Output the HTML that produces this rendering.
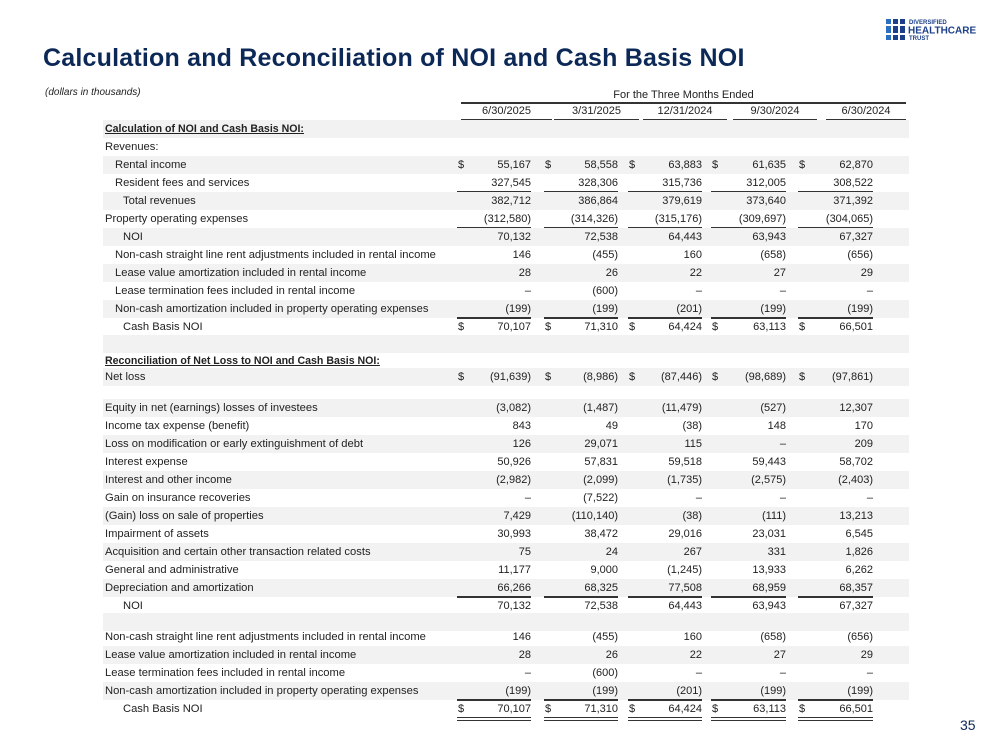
<!DOCTYPE html>
<html><head><meta charset="utf-8"><style>
*{margin:0;padding:0;box-sizing:border-box}
body{width:999px;height:750px;background:#fff;position:relative;overflow:hidden;font-family:"Liberation Sans",sans-serif;color:#222}
.t{position:absolute;left:43px;top:44px;font-size:25px;font-weight:bold;color:#0c2857;letter-spacing:0.2px}
.r{position:absolute;left:103px;width:806px;height:18px;font-size:11.2px;line-height:18px}
.s{background:#f2f2f2}
.l{position:absolute;white-space:nowrap}
.c{position:absolute;top:0;height:18px;text-align:right;font-size:11px}
.d{position:absolute;top:0;font-size:11px}
.u{position:absolute;height:1.5px;background:#333}
.dd{position:absolute;height:4px;border-top:1.5px solid #333;border-bottom:1.5px solid #333}
.h{position:absolute;font-size:11px;text-align:center}
.b{font-weight:bold;text-decoration:underline;font-size:10.6px}
</style></head><body>
<div class="t">Calculation and Reconciliation of NOI and Cash Basis NOI</div>
<svg style="position:absolute;left:886px;top:17px" width="95" height="28">
<g fill="#2a6fc0"><rect x="0" y="2" width="5" height="5"/><rect x="0" y="9" width="5" height="7"/><rect x="0" y="18" width="5" height="5"/></g>
<g fill="#1c3f8a"><rect x="7" y="2" width="5" height="5"/><rect x="7" y="9" width="5" height="7"/><rect x="7" y="18" width="5" height="5"/><rect x="14" y="2" width="5" height="5"/><rect x="14" y="9" width="5" height="7"/><rect x="14" y="18" width="5" height="5"/></g>
<text x="23" y="7" font-size="6" font-family="Liberation Sans" fill="#1c3f8a" font-weight="bold">DIVERSIFIED</text>
<text x="22" y="16.5" font-size="10" font-family="Liberation Sans" fill="#1c3f8a" font-weight="bold">HEALTHCARE</text>
<text x="23" y="23" font-size="6" font-family="Liberation Sans" fill="#1c3f8a" font-weight="bold">TRUST</text>
</svg>
<div style="position:absolute;left:45px;top:87px;font-size:10px;font-style:italic">(dollars in thousands)</div>
<div class="h" style="left:461px;width:445px;top:89px">For the Three Months Ended</div>
<div class="u" style="left:461px;width:445px;top:102px"></div>
<div class="h" style="left:461px;width:91px;top:105px">6/30/2025</div>
<div class="h" style="left:554px;width:85px;top:105px">3/31/2025</div>
<div class="h" style="left:643px;width:84px;top:105px">12/31/2024</div>
<div class="h" style="left:733px;width:84px;top:105px">9/30/2024</div>
<div class="h" style="left:826px;width:80px;top:105px">6/30/2024</div>
<div class="u" style="left:461px;width:91px;top:119px"></div>
<div class="u" style="left:554px;width:85px;top:119px"></div>
<div class="u" style="left:643px;width:84px;top:119px"></div>
<div class="u" style="left:733px;width:84px;top:119px"></div>
<div class="u" style="left:826px;width:80px;top:119px"></div>
<div id="tb"></div>
<div style="position:absolute;left:960px;top:717px;font-size:14px;color:#0c2857">35</div>
<script>
var C=[[457,531],[544,618],[628,702],[711,786],[798,873]];
var rows=[
[129,1,0,"Calculation of NOI and Cash Basis NOI:",null,"b"],
[147,0,0,"Revenues:",null],
[165,1,10,"Rental income",["55,167","58,558","63,883","61,635","62,870"],"$"],
[183,0,10,"Resident fees and services",["327,545","328,306","315,736","312,005","308,522"],"u"],
[201,1,18,"Total revenues",["382,712","386,864","379,619","373,640","371,392"]],
[219,0,0,"Property operating expenses",["(312,580)","(314,326)","(315,176)","(309,697)","(304,065)"],"u"],
[237,1,18,"NOI",["70,132","72,538","64,443","63,943","67,327"]],
[255,0,10,"Non-cash straight line rent adjustments included in rental income",["146","(455)","160","(658)","(656)"]],
[273,1,10,"Lease value amortization included in rental income",["28","26","22","27","29"]],
[291,0,10,"Lease termination fees included in rental income",["–","(600)","–","–","–"]],
[309,1,10,"Non-cash amortization included in property operating expenses",["(199)","(199)","(201)","(199)","(199)"],"u"],
[327,0,18,"Cash Basis NOI",["70,107","71,310","64,424","63,113","66,501"],"$d"],
[344,1,0,"",null],
[361,0,0,"Reconciliation of Net Loss to NOI and Cash Basis NOI:",null,"b"],
[377,1,0,"Net loss",["(91,639)","(8,986)","(87,446)","(98,689)","(97,861)"],"$"],
[394,0,0,"",null],
[408,1,0,"Equity in net (earnings) losses of investees",["(3,082)","(1,487)","(11,479)","(527)","12,307"]],
[426,0,0,"Income tax expense (benefit)",["843","49","(38)","148","170"]],
[444,1,0,"Loss on modification or early extinguishment of debt",["126","29,071","115","–","209"]],
[462,0,0,"Interest expense",["50,926","57,831","59,518","59,443","58,702"]],
[480,1,0,"Interest and other income",["(2,982)","(2,099)","(1,735)","(2,575)","(2,403)"]],
[498,0,0,"Gain on insurance recoveries",["–","(7,522)","–","–","–"]],
[516,1,0,"(Gain) loss on sale of properties",["7,429","(110,140)","(38)","(111)","13,213"]],
[534,0,0,"Impairment of assets",["30,993","38,472","29,016","23,031","6,545"]],
[552,1,0,"Acquisition and certain other transaction related costs",["75","24","267","331","1,826"]],
[570,0,0,"General and administrative",["11,177","9,000","(1,245)","13,933","6,262"]],
[588,1,0,"Depreciation and amortization",["66,266","68,325","77,508","68,959","68,357"],"u"],
[606,0,18,"NOI",["70,132","72,538","64,443","63,943","67,327"]],
[622,1,0,"",null],
[637,0,0,"Non-cash straight line rent adjustments included in rental income",["146","(455)","160","(658)","(656)"]],
[655,1,0,"Lease value amortization included in rental income",["28","26","22","27","29"]],
[673,0,0,"Lease termination fees included in rental income",["–","(600)","–","–","–"]],
[691,1,0,"Non-cash amortization included in property operating expenses",["(199)","(199)","(201)","(199)","(199)"],"u"],
[709,0,18,"Cash Basis NOI",["70,107","71,310","64,424","63,113","66,501"],"$d"]
];
var h="";
rows.forEach(function(r){
 var y=r[0]-9;
 h+='<div class="r'+(r[1]?' s':'')+'" style="top:'+y+'px"><span class="l'+(r[5]=="b"?' b':'')+'" style="left:'+(2+r[2])+'px">'+r[3]+'</span>';
 if(r[4]){for(var i=0;i<5;i++){var c=C[i];
  if(r[5]&&r[5][0]=="$")h+='<span class="d" style="left:'+(c[0]-103+1)+'px">$</span>';
  h+='<span class="c" style="left:'+(c[0]-103)+'px;width:'+(c[1]-c[0])+'px">'+r[4][i]+'</span>';}}
 h+='</div>';
 if(r[5]=="u"){for(var i=0;i<5;i++)h+='<div class="u" style="left:'+C[i][0]+'px;width:'+(C[i][1]-C[i][0])+'px;top:'+(y+17)+'px"></div>';}
 if(r[5]=="$d"){for(var i=0;i<5;i++)h+='<div class="dd" style="left:'+C[i][0]+'px;width:'+(C[i][1]-C[i][0])+'px;top:'+(y+17)+'px"></div>';}
});
document.getElementById("tb").innerHTML=h;
</script>
</body></html>
